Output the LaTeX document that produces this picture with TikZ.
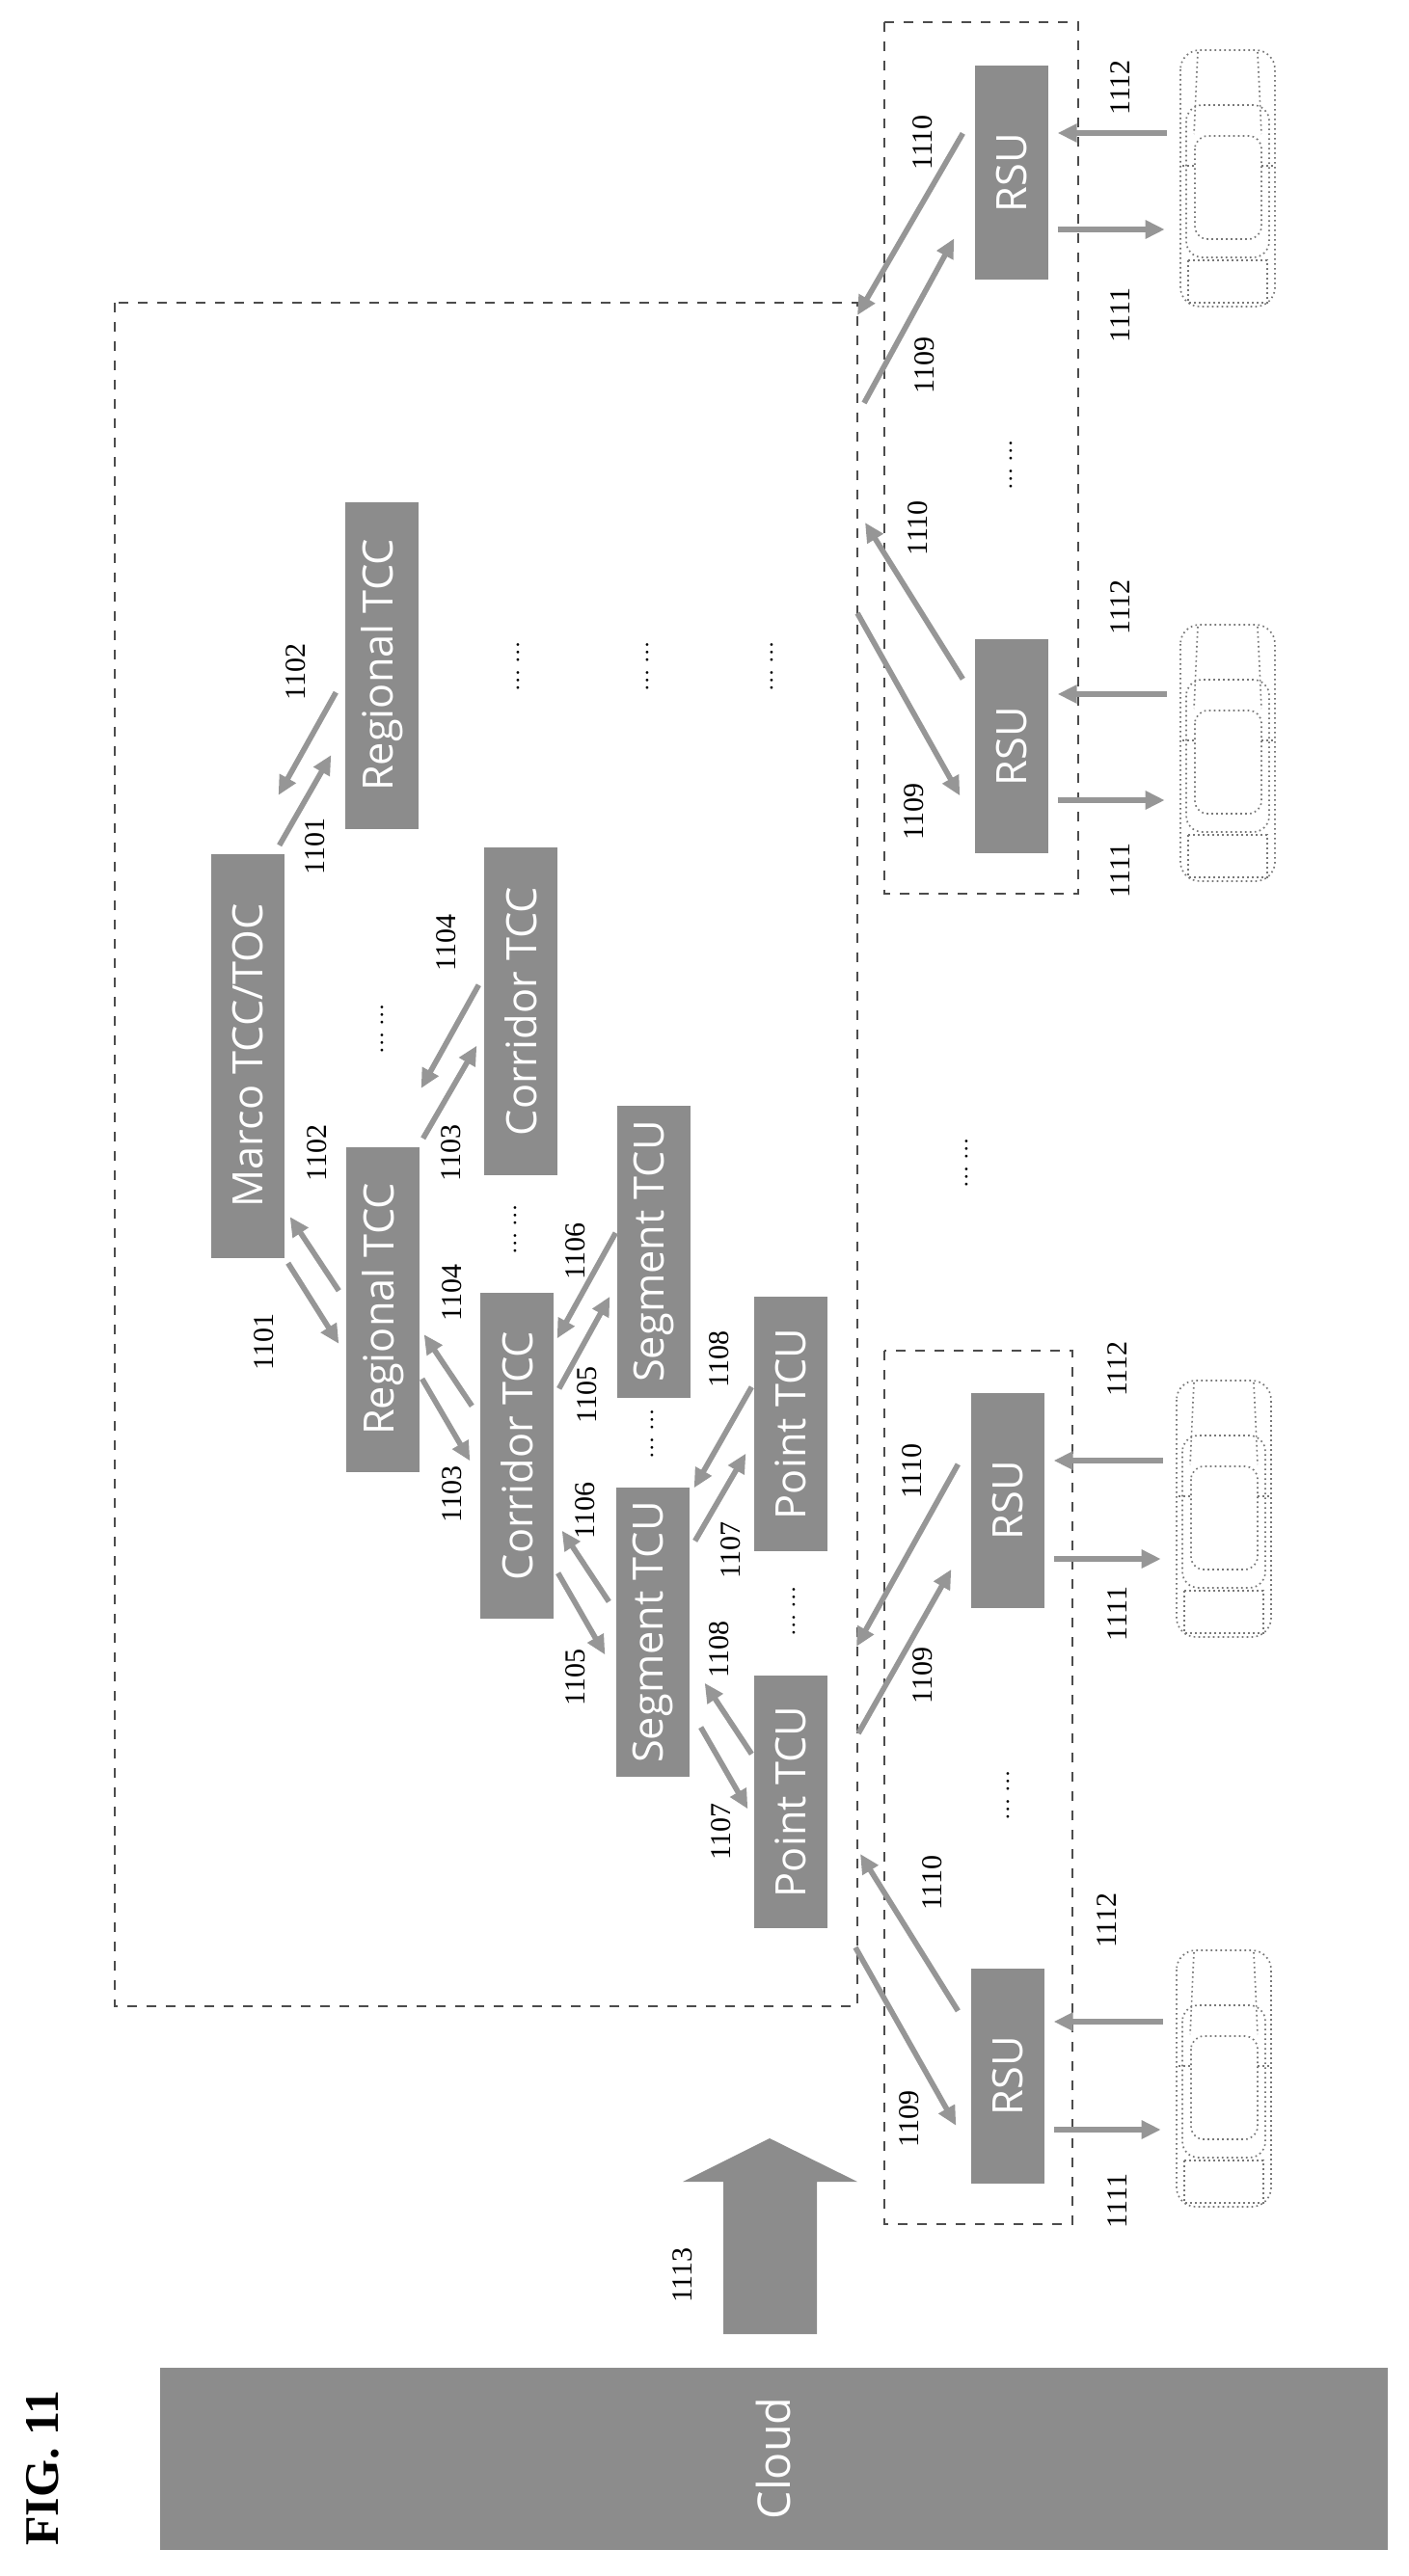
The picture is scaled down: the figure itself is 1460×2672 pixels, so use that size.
\documentclass[tikz,border=0pt]{standalone}
\usepackage{fontspec}
\setmainfont{Liberation Serif}
\setsansfont{Open Sans}
\usetikzlibrary{arrows.meta,calc}
\definecolor{boxgray}{RGB}{140,140,140}
\definecolor{arrgray}{RGB}{150,150,150}
\definecolor{cargray}{RGB}{120,120,120}
\tikzset{%
  tipG/.tip={Triangle[length=6pt,width=5.5pt]},
  box/.style={fill=boxgray,text=white,font=\sffamily\fontsize{13}{13}\selectfont,
    minimum width=22.8pt,inner sep=0pt},
  arr/.style={draw=arrgray,line width=1.7pt,-tipG},
  num/.style={rotate=90,font=\fontsize{9}{9}\selectfont,inner sep=0pt},
  dots/.style={rotate=90,font=\fontsize{7}{7}\selectfont,inner sep=0pt},
  frame/.style={draw=black!70,dashed,line width=0.5pt},
  car/.pic={
    \begin{scope}[draw=cargray,densely dotted,line width=0.5pt]
    \draw[rounded corners=6pt] (0,0) rectangle (98,266);
    \draw[rounded corners=5pt] (6,57) rectangle (92,215);
    \draw[rounded corners=4pt] (15,89) rectangle (84,196);
    \draw (8,218) rectangle (90,262);
    \draw (18,2) -- (14,87) (80,2) -- (84,87);
    \draw (2,120) -- (14,120) (84,120) -- (96,120);
    \end{scope}}
}
\begin{document}
\begin{tikzpicture}[x=0.3pt,y=-0.3pt]
\useasboundingbox (0,0) rectangle (1460,2672);
% frames
\draw[frame] (119,314) rectangle (889,2081);
\draw[frame] (917,23) rectangle (1118,927);
\draw[frame] (917,1401) rectangle (1112,2307);
% control centres
\node[box,minimum height=125.7pt] (marco) at (257,1095) {\rotatebox{90}{Marco TCC/TOC}};
\node[box,minimum height=101.7pt] (regA) at (396,690) {\rotatebox{90}{Regional TCC}};
\node[box,minimum height=101.1pt] (regB) at (397,1358) {\rotatebox{90}{Regional TCC}};
\node[box,minimum height=102pt] (corA) at (540,1049) {\rotatebox{90}{Corridor TCC}};
\node[box,minimum height=101.4pt] (corB) at (536,1510) {\rotatebox{90}{Corridor TCC}};
\node[box,minimum height=90.9pt] (segA) at (678,1298) {\rotatebox{90}{Segment TCU}};
\node[box,minimum height=90pt] (segB) at (677,1693) {\rotatebox{90}{Segment TCU}};
\node[box,minimum height=79.2pt] (ptA) at (820,1477) {\rotatebox{90}{Point TCU}};
\node[box,minimum height=78.6pt] (ptB) at (820,1869) {\rotatebox{90}{Point TCU}};
% roadside units
\foreach \n/\y in {1/179,2/774}
  \node[box,minimum height=66.6pt] (rsu\n) at (1049,\y) {\rotatebox{90}{RSU}};
\foreach \n/\y in {3/1556,4/2153}
  \node[box,minimum height=66.9pt] (rsu\n) at (1045,\y) {\rotatebox{90}{RSU}};
% cloud
\node[box,minimum width=381.9pt,minimum height=56.7pt,font=\sffamily\fontsize{14}{14}\selectfont]
  (cloud) at (802,2550) {\rotatebox{90}{Cloud}};
\node[rotate=90,font=\bfseries\fontsize{15}{15}\selectfont] (fig) at (44,2560) {FIG. 11};
\draw[fill=boxgray,draw=none] (750,2421) -- (750,2263) -- (708,2263) -- (798,2218)
  -- (889,2263) -- (847,2263) -- (847,2421) -- cycle;
\node[num] (l1113) at (708,2360) {1113};
% links between centres
\draw[arr] ($(marco.north east)+(-6,-8)$) -- ($(regA.south west)+(-14,-77)$);
\draw[arr] ($(regA.south west)+(-9,-142)$) -- ($(marco.north east)+(-7,-60)$);
\draw[arr] ($(regB.north west)+(-7,150)$) -- ($(marco.south east)+(5,-43)$);
\draw[arr] ($(marco.south east)+(3,5)$) -- ($(regB.north west)+(-7,205)$);
\draw[arr] ($(regB.north east)+(3,-8)$) -- ($(corA.south west)+(-7,-135)$);
\draw[arr] ($(corA.south west)+(-5,-198)$) -- ($(regB.north east)+(1,-60)$);
\draw[arr] ($(corB.north west)+(-8,118)$) -- ($(regB.south east)+(4,-143)$);
\draw[arr] ($(regB.south east)+(2,-97)$) -- ($(corB.north west)+(-10,175)$);
\draw[arr] ($(segA.north west)+(-1,133)$) -- ($(corB.north east)+(3,48)$);
\draw[arr] ($(corB.north east)+(5,100)$) -- ($(segA.north west)+(-7,199)$);
\draw[arr] ($(segB.north west)+(-7,119)$) -- ($(corB.south east)+(8,-92)$);
\draw[arr] ($(corB.south east)+(4,-48)$) -- ($(segB.north west)+(-11,174)$);
\draw[arr] ($(ptA.south west)+(-2,-171)$) -- ($(segB.north east)+(4,1)$);
\draw[arr] ($(segB.north east)+(5,56)$) -- ($(ptA.south west)+(-8,-102)$);
\draw[arr] ($(ptB.north west)+(-2,82)$) -- ($(segB.south east)+(15,-98)$);
\draw[arr] ($(segB.south east)+(11,-52)$) -- ($(ptB.north west)+(-6,139)$);
% labels of the centre links
\node[num] at (307,697) {1102};
\node[num] at (327,878) {1101};
\node[num] at (329,1196) {1102};
\node[num] at (274,1392) {1101};
\node[num] at (463,978) {1104};
\node[num] at (468,1196) {1103};
\node[num] at (469,1341) {1104};
\node[num] at (469,1550) {1103};
\node[num] at (597,1298) {1106};
\node[num] at (609,1447) {1105};
\node[num] at (607,1567) {1106};
\node[num] at (597,1740) {1105};
\node[num] at (746,1410) {1108};
\node[num] at (758,1608) {1107};
\node[num] at (746,1711) {1108};
\node[num] at (748,1900) {1107};
% free ends on the frame
\coordinate (e1a) at (889,327);
\coordinate (e1b) at (896,418);
\coordinate (e2a) at (897,542);
\coordinate (e2b) at (889,636);
\coordinate (e3a) at (888,1708);
\coordinate (e3b) at (890,1798);
\coordinate (e4a) at (892,1923);
\coordinate (e4b) at (887,2020);
% links to the roadside units
\draw[arr] ($(rsu1.north west)+(-12,71)$) -- (e1a);
\draw[arr] (e1b) -- ($(rsu1.north west)+(-21,180)$);
\draw[arr] ($(rsu2.north west)+(-12,42)$) -- (e2a);
\draw[arr] (e2b) -- ($(rsu2.north west)+(-15,163)$);
\draw[arr] ($(rsu3.north west)+(-13,75)$) -- (e3a);
\draw[arr] (e3b) -- ($(rsu3.north west)+(-20,184)$);
\draw[arr] ($(rsu4.north west)+(-13,45)$) -- (e4a);
\draw[arr] (e4b) -- ($(rsu4.north west)+(-15,164)$);
\foreach \x/\y/\t in {957/148/1110,959/379/1109,952/548/1110,948/842/1109,
  946/1526/1110,957/1738/1109,967/1953/1110,943/2198/1109}
  \node[num] at (\x,\y) {\t};
% vehicles
\pic at (1224,52) {car};
\pic at (1224,648) {car};
\pic at (1220,1432) {car};
\pic at (1220,2023) {car};
\draw[arr] ($(rsu1.east)+(122,-41)$) -- ($(rsu1.east)+(9,-41)$);
\draw[arr] ($(rsu1.east)+(9,59)$) -- ($(rsu1.east)+(120,59)$);
\draw[arr] ($(rsu2.east)+(122,-54)$) -- ($(rsu2.east)+(9,-54)$);
\draw[arr] ($(rsu2.east)+(9,56)$) -- ($(rsu2.east)+(120,56)$);
\draw[arr] ($(rsu3.east)+(122,-41)$) -- ($(rsu3.east)+(9,-41)$);
\draw[arr] ($(rsu3.east)+(9,61)$) -- ($(rsu3.east)+(120,61)$);
\draw[arr] ($(rsu4.east)+(122,-56)$) -- ($(rsu4.east)+(9,-56)$);
\draw[arr] ($(rsu4.east)+(9,56)$) -- ($(rsu4.east)+(120,56)$);
\foreach \x/\y/\t in {1162/91/1112,1162/327/1111,1162/630/1112,1162/903/1111,
  1159/1420/1112,1159/1674/1111,1148/1992/1112,1159/2283/1111}
  \node[num] at (\x,\y) {\t};
% omitted elements
\foreach \x/\y in {537/691,671/691,800/691,396/1067,534/1275,676/1487,823/1671,
  1048/482,1045/1862,1002/1206}
  \node[dots] at (\x,\y) {\ldots\ \ldots};
\end{tikzpicture}
\end{document}
